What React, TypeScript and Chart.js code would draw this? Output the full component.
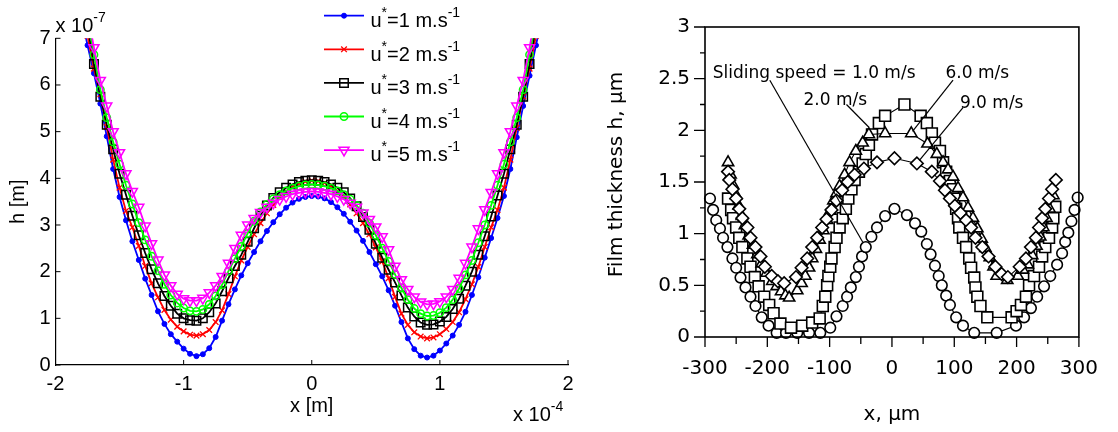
import React, { useEffect, useRef } from "react";
import { Chart, registerables } from "chart.js";
import { drawPoint } from "chart.js/helpers";

Chart.register(...registerables);

const LEFT_FONT = '"Liberation Sans", Arial, Helvetica, sans-serif';
const RIGHT_FONT = '"DejaVu Sans", Verdana, sans-serif';

// ---------------- Left panel (x in 1e-4 m, h in 1e-7 m) ----------------
const xGrid = [
  -1.8, -1.75, -1.7, -1.65, -1.6, -1.55, -1.5, -1.45, -1.4, -1.35, -1.3, -1.25, -1.2, -1.15, -1.1, -1.05, -1.0, -0.95,
  -0.9, -0.85, -0.8, -0.75, -0.7, -0.65, -0.6, -0.55, -0.5, -0.45, -0.4, -0.35, -0.3, -0.25, -0.2, -0.15, -0.1, -0.05,
  0, 0.05, 0.1, 0.15, 0.2, 0.25, 0.3, 0.35, 0.4, 0.45, 0.5, 0.55, 0.6, 0.65, 0.7, 0.75, 0.8, 0.85, 0.9, 0.95, 1.0,
  1.05, 1.1, 1.15, 1.2, 1.25, 1.3, 1.35, 1.4, 1.45, 1.5, 1.55, 1.6, 1.65, 1.7, 1.75, 1.8,
];
const hU1 = [
  7.5, 6.85, 6.25, 5.6, 4.9, 4.2, 3.6, 3.1, 2.65, 2.25, 1.85, 1.5, 1.15, 0.88, 0.66, 0.5, 0.35, 0.24, 0.19, 0.23, 0.36,
  0.6, 0.95, 1.3, 1.62, 1.92, 2.18, 2.42, 2.65, 2.87, 3.06, 3.23, 3.37, 3.48, 3.56, 3.6, 3.62,
  3.61, 3.57, 3.49, 3.38, 3.24, 3.07, 2.88, 2.66, 2.42, 2.16, 1.9, 1.6, 1.27, 0.92, 0.57, 0.34, 0.2, 0.16, 0.2, 0.31,
  0.46, 0.63, 0.86, 1.14, 1.5, 1.88, 2.3, 2.72, 3.15, 3.62, 4.2, 4.88, 5.55, 6.2, 6.85, 7.5,
];
const hU2 = [
  7.8, 7.05, 6.35, 5.8, 5.1, 4.4, 3.8, 3.3, 2.95, 2.55, 2.12, 1.75, 1.45, 1.18, 0.97, 0.82, 0.72, 0.65, 0.63, 0.66, 0.75,
  0.92, 1.17, 1.52, 1.9, 2.24, 2.53, 2.8, 3.04, 3.25, 3.43, 3.6, 3.72, 3.82, 3.89, 3.93, 3.95,
  3.94, 3.9, 3.83, 3.73, 3.61, 3.44, 3.25, 3.04, 2.8, 2.52, 2.22, 1.86, 1.46, 1.1, 0.86, 0.7, 0.61, 0.57, 0.59, 0.66,
  0.77, 0.92, 1.13, 1.41, 1.73, 2.1, 2.53, 2.95, 3.32, 3.8, 4.4, 5.08, 5.75, 6.35, 7.05, 7.8,
];
const hU3 = [
  8.0, 7.25, 6.45, 5.75, 5.15, 4.62, 4.1, 3.65, 3.2, 2.78, 2.4, 2.05, 1.75, 1.48, 1.27, 1.1, 1.0, 0.96, 0.95, 1.0, 1.13,
  1.32, 1.58, 1.86, 2.12, 2.36, 2.64, 2.93, 3.2, 3.42, 3.58, 3.7, 3.8, 3.87, 3.92, 3.95, 3.96,
  3.95, 3.92, 3.87, 3.8, 3.7, 3.57, 3.4, 3.17, 2.9, 2.6, 2.3, 2.04, 1.77, 1.49, 1.23, 1.04, 0.91, 0.86, 0.87, 0.93,
  1.03, 1.2, 1.42, 1.7, 2.0, 2.36, 2.76, 3.18, 3.63, 4.1, 4.62, 5.15, 5.75, 6.45, 7.25, 8.0,
];
const hU4 = [
  8.2, 7.4, 6.65, 5.9, 5.3, 4.78, 4.3, 3.85, 3.45, 3.05, 2.68, 2.33, 2.02, 1.73, 1.5, 1.33, 1.22, 1.16, 1.15, 1.19, 1.3,
  1.48, 1.72, 2.01, 2.28, 2.54, 2.82, 3.08, 3.28, 3.44, 3.56, 3.65, 3.73, 3.79, 3.83, 3.86, 3.87,
  3.86, 3.83, 3.79, 3.73, 3.65, 3.55, 3.42, 3.25, 3.04, 2.78, 2.5, 2.22, 1.94, 1.65, 1.4, 1.21, 1.1, 1.05, 1.06, 1.12,
  1.23, 1.4, 1.64, 1.93, 2.24, 2.62, 3.0, 3.42, 3.85, 4.3, 4.78, 5.3, 5.9, 6.65, 7.4, 8.2,
];
const hU5 = [
  8.3, 7.55, 6.8, 6.1, 5.55, 5.0, 4.55, 4.1, 3.72, 3.38, 2.98, 2.6, 2.25, 1.93, 1.7, 1.52, 1.42, 1.38, 1.38, 1.43, 1.55,
  1.7, 1.9, 2.18, 2.5, 2.78, 3.0, 3.14, 3.27, 3.38, 3.47, 3.55, 3.61, 3.66, 3.69, 3.71, 3.72,
  3.71, 3.69, 3.66, 3.61, 3.55, 3.47, 3.38, 3.26, 3.12, 2.96, 2.75, 2.47, 2.12, 1.83, 1.62, 1.46, 1.35, 1.3, 1.31, 1.36,
  1.46, 1.62, 1.86, 2.18, 2.53, 2.92, 3.33, 3.7, 4.1, 4.55, 5.0, 5.55, 6.1, 6.8, 7.55, 8.3,
];
const leftSpeeds = ["1", "2", "3", "4", "5"];
const leftXTicks = [-2, -1, 0, 1, 2];
const leftYTicks = [0, 1, 2, 3, 4, 5, 6, 7];

// ---------------- Right panel (x in µm, h in µm) ----------------
const xV1 = [
  -292, -287, -282, -276, -271, -264, -256, -250, -243, -235, -227, -219, -209, -198, -185, -170, -152, -133, -115,
  -99, -89, -79, -72, -66, -58, -53, -48, -42, -33, -24, -11, 4, 24, 37, 47, 56, 62, 69, 75, 80, 87, 93, 103, 114,
  132, 168, 199, 212, 223, 233, 244, 254, 265, 273, 278, 283, 288, 293, 298,
];
const hV1 = [
  1.34, 1.23, 1.13, 1.05, 0.96, 0.87, 0.76, 0.67, 0.575, 0.48, 0.39, 0.3, 0.19, 0.11, 0.04, 0.04, 0.04, 0.04, 0.04,
  0.09, 0.2, 0.3, 0.39, 0.48, 0.58, 0.68, 0.78, 0.87, 0.97, 1.06, 1.17, 1.24, 1.18, 1.1, 1.02, 0.9, 0.8, 0.69, 0.59,
  0.5, 0.4, 0.31, 0.19, 0.11, 0.04, 0.04, 0.11, 0.19, 0.28, 0.39, 0.49, 0.59, 0.7, 0.81, 0.92, 1.01, 1.12, 1.23, 1.35,
];
const xV2 = [
  -263, -258, -255, -250, -245, -240, -232, -227, -220, -214, -205, -197, -190, -179, -162, -144, -128, -116, -111,
  -107, -104, -102, -99, -97, -92, -89, -84, -79, -74, -70, -65, -60, -53, -47, -42, -37, -32, -21, -11, 20, 46, 56,
  64, 69, 77, 82, 87, 93, 98, 100, 103, 106, 108, 114, 119, 124, 127, 132, 134, 137, 142, 153, 192, 200, 207, 215,
  220, 228, 236, 241, 246, 252, 257, 259, 262,
];
const hV2 = [
  1.34, 1.23, 1.15, 1.06, 0.96, 0.87, 0.76, 0.68, 0.58, 0.49, 0.39, 0.31, 0.23, 0.13, 0.09, 0.11, 0.14, 0.18, 0.3,
  0.39, 0.5, 0.59, 0.68, 0.76, 0.87, 0.96, 1.06, 1.15, 1.24, 1.34, 1.43, 1.52, 1.6, 1.68, 1.77, 1.86, 1.96, 2.07,
  2.14, 2.25, 2.14, 2.07, 1.97, 1.88, 1.8, 1.69, 1.6, 1.51, 1.43, 1.34, 1.24, 1.15, 1.06, 0.96, 0.87, 0.76, 0.67,
  0.575, 0.48, 0.39, 0.3, 0.19, 0.19, 0.25, 0.31, 0.39, 0.5, 0.59, 0.68, 0.78, 0.87, 0.96, 1.06, 1.15, 1.26,
];
const xV6 = [
  -263, -259, -255, -250, -246, -241, -236, -230, -223, -216, -209, -201, -192, -185, -178, -171, -165, -152, -145,
  -139, -133, -128, -122, -116, -110, -104, -99, -94, -89, -84, -76, -68, -58, -47, -37, -11, 31, 57, 72, 82, 90, 98,
  106, 114, 122, 130, 137, 144, 150, 157, 163, 168, 185, 202, 210, 218, 225, 232, 238, 243, 248, 253, 259,
];
const hV6 = [
  1.69, 1.57, 1.47, 1.37, 1.27, 1.17, 1.08, 0.98, 0.89, 0.8, 0.71, 0.62, 0.54, 0.49, 0.44, 0.4, 0.38, 0.45, 0.52,
  0.59, 0.67, 0.76, 0.85, 0.94, 1.03, 1.13, 1.22, 1.32, 1.39, 1.46, 1.57, 1.69, 1.8, 1.88, 1.96, 1.97, 1.97, 1.87,
  1.77, 1.69, 1.62, 1.55, 1.44, 1.35, 1.25, 1.15, 1.05, 0.95, 0.86, 0.77, 0.68, 0.59, 0.55, 0.59, 0.65, 0.7, 0.79,
  0.88, 0.97, 1.06, 1.15, 1.24, 1.37,
];
const xV9 = [
  -263, -261, -256, -250, -245, -240, -232, -227, -219, -211, -204, -193, -183, -173, -154, -145, -136, -128, -120,
  -112, -105, -97, -89, -80, -71, -60, -45, -24, 4, 40, 64, 77, 85, 93, 101, 110, 119, 127, 134, 145, 155, 166, 176,
  186, 205, 215, 223, 231, 236, 241, 246, 252, 257, 263,
];
const hV9 = [
  1.6, 1.52, 1.43, 1.34, 1.24, 1.15, 1.06, 0.96, 0.87, 0.78, 0.68, 0.59, 0.54, 0.52, 0.58, 0.67, 0.76, 0.87, 0.96,
  1.06, 1.14, 1.23, 1.32, 1.42, 1.5, 1.57, 1.63, 1.69, 1.73, 1.68, 1.6, 1.51, 1.42, 1.34, 1.27, 1.2, 1.13, 1.06,
  0.96, 0.87, 0.78, 0.68, 0.61, 0.58, 0.68, 0.76, 0.87, 0.96, 1.06, 1.15, 1.24, 1.34, 1.43, 1.52,
];
const rightXTicks = [-300, -200, -100, 0, 100, 200, 300];
const rightXMinor = [-250, -150, -50, 50, 150, 250];
const rightYTicks = [0, 0.5, 1, 1.5, 2, 2.5, 3];
const rightYMinor = [0.25, 0.75, 1.25, 1.75, 2.25, 2.75];

const annTexts = ["Sliding speed = 1.0 m/s", "2.0 m/s", "6.0 m/s", "9.0 m/s"];
const annTextX = [-287.5, -142, 86, 109];
const annTextY = [2.51, 2.25, 2.51, 2.22];
const leadFromX = [-196, -73, 98, 114];
const leadFromY = [2.485, 2.25, 2.485, 2.22];
const leadToX = [-47, -37, 33, 44];
const leadToY = [0.92, 2.03, 1.99, 1.71];

function pairs(xs: number[], ys: number[]) {
  return xs.map((x, i) => ({ x, y: ys[i] }));
}

const leftStyles = [
  { color: "#0000ff", pointStyle: "circle", radius: 2.5, rotation: 0, filled: true, bw: 1 },
  { color: "#ff0000", pointStyle: "crossRot", radius: 4, rotation: 0, filled: false, bw: 1.3 },
  { color: "#000000", pointStyle: "rect", radius: 6, rotation: 0, filled: false, bw: 1.5 },
  { color: "#00ff00", pointStyle: "circle", radius: 3.7, rotation: 0, filled: false, bw: 1.5 },
  { color: "#ff00ff", pointStyle: "triangle", radius: 5.8, rotation: 180, filled: false, bw: 1.5 },
];
const leftValues = [hU1, hU2, hU3, hU4, hU5];

function drawParts(ctx: CanvasRenderingContext2D, x: number, base: number, parts: { t: string; sup?: boolean }[], size: number, supSize: number, font: string, raise: number) {
  let cx = x;
  for (const p of parts) {
    ctx.font = `${p.sup ? supSize : size}px ${font}`;
    ctx.fillText(p.t, cx, p.sup ? base - raise : base);
    cx += ctx.measureText(p.t).width;
  }
}

const leftDeco = {
  id: "leftDeco",
  afterDraw(chart: any) {
    const { ctx, chartArea: a } = chart;
    const xs = chart.scales.x;
    const ys = chart.scales.y;
    ctx.save();
    ctx.strokeStyle = "#000";
    ctx.lineWidth = 1;
    ctx.beginPath();
    leftXTicks.forEach((v) => {
      const p = xs.getPixelForValue(v);
      ctx.moveTo(p, a.bottom);
      ctx.lineTo(p, a.bottom - 5);
    });
    leftYTicks.forEach((v) => {
      const p = ys.getPixelForValue(v);
      ctx.moveTo(a.left, p);
      ctx.lineTo(a.left + 5, p);
    });
    ctx.stroke();

    ctx.fillStyle = "#000";
    ctx.textAlign = "left";
    ctx.textBaseline = "alphabetic";
    drawParts(ctx, a.left, a.top - 6, [{ t: "x 10" }, { t: "-7", sup: true }], 20, 14, LEFT_FONT, 10);
    drawParts(ctx, a.right - 55, a.bottom + 56, [{ t: "x 10" }, { t: "-4", sup: true }], 20, 14, LEFT_FONT, 10);

    ctx.font = `20px ${LEFT_FONT}`;
    ctx.textAlign = "center";
    ctx.fillText("x [m]", (a.left + a.right) / 2, a.bottom + 47);
    ctx.save();
    ctx.translate(24, (a.top + a.bottom) / 2);
    ctx.rotate(-Math.PI / 2);
    ctx.fillText("h [m]", 0, 0);
    ctx.restore();

    // legend
    ctx.textAlign = "left";
    leftStyles.forEach((s, i) => {
      const ry = 15.7 + i * 33.6;
      ctx.strokeStyle = s.color;
      ctx.lineWidth = 1.8;
      ctx.beginPath();
      ctx.moveTo(324, ry);
      ctx.lineTo(364, ry);
      ctx.stroke();
      ctx.lineWidth = s.bw;
      ctx.fillStyle = s.filled ? s.color : "rgba(0,0,0,0)";
      drawPoint(ctx, { pointStyle: s.pointStyle as any, radius: s.radius, rotation: s.rotation, borderWidth: s.bw }, 344, ry);
      ctx.fillStyle = "#000";
      drawParts(
        ctx,
        370.5,
        ry + 11.3,
        [{ t: "u" }, { t: "*", sup: true }, { t: `=${leftSpeeds[i]} m.s` }, { t: "-1", sup: true }],
        20,
        14,
        LEFT_FONT,
        10
      );
    });
    ctx.restore();
  },
};

const rightDeco = {
  id: "rightDeco",
  afterDraw(chart: any) {
    const { ctx, chartArea: a } = chart;
    const xs = chart.scales.x;
    const ys = chart.scales.y;
    ctx.save();
    ctx.strokeStyle = "#000";
    ctx.lineWidth = 1.6;
    ctx.strokeRect(a.left, a.top, a.right - a.left, a.bottom - a.top);
    ctx.lineWidth = 1.3;
    ctx.beginPath();
    rightXTicks.forEach((v) => {
      const p = xs.getPixelForValue(v);
      ctx.moveTo(p, a.bottom);
      ctx.lineTo(p, a.bottom + 10);
    });
    rightXMinor.forEach((v) => {
      const p = xs.getPixelForValue(v);
      ctx.moveTo(p, a.bottom);
      ctx.lineTo(p, a.bottom + 7);
    });
    rightYTicks.forEach((v) => {
      const p = ys.getPixelForValue(v);
      ctx.moveTo(a.left, p);
      ctx.lineTo(a.left - 11, p);
    });
    rightYMinor.forEach((v) => {
      const p = ys.getPixelForValue(v);
      ctx.moveTo(a.left, p);
      ctx.lineTo(a.left - 5, p);
    });
    ctx.stroke();

    // annotations
    ctx.fillStyle = "#000";
    ctx.font = `17px ${RIGHT_FONT}`;
    ctx.textAlign = "left";
    ctx.textBaseline = "alphabetic";
    ctx.lineWidth = 1.2;
    annTexts.forEach((t, i) => {
      ctx.fillText(t, xs.getPixelForValue(annTextX[i]), ys.getPixelForValue(annTextY[i]));
      ctx.beginPath();
      ctx.moveTo(xs.getPixelForValue(leadFromX[i]), ys.getPixelForValue(leadFromY[i]));
      ctx.lineTo(xs.getPixelForValue(leadToX[i]), ys.getPixelForValue(leadToY[i]));
      ctx.stroke();
    });

    // titles
    ctx.font = `20px ${RIGHT_FONT}`;
    ctx.textAlign = "center";
    ctx.fillText("x, \u03bcm", (a.left + a.right) / 2, 420);
    ctx.save();
    ctx.translate(21.7, 174.5);
    ctx.rotate(-Math.PI / 2);
    ctx.fillText("Film thickness h, \u03bcm", 0, 0);
    ctx.restore();
    ctx.restore();
  },
};

function leftConfig(): any {
  const font = { family: LEFT_FONT, size: 20 };
  return {
    type: "scatter",
    data: {
      datasets: leftStyles.map((s, i) => ({
        label: `u*=${leftSpeeds[i]} m.s-1`,
        data: pairs(xGrid, leftValues[i]),
        showLine: true,
        borderColor: s.color,
        borderWidth: 1.8,
        pointStyle: s.pointStyle,
        pointRadius: s.radius,
        pointRotation: s.rotation,
        pointBorderColor: s.color,
        pointBackgroundColor: s.filled ? s.color : "rgba(0,0,0,0)",
        pointBorderWidth: s.bw,
        tension: 0,
        order: 5 - i,
      })),
    },
    options: {
      responsive: false,
      animation: false,
      events: [],
      layout: { padding: { left: 0, right: 32, top: 38.3, bottom: 0 } },
      plugins: { legend: { display: false }, tooltip: { enabled: false } },
      scales: {
        x: {
          type: "linear",
          min: -2,
          max: 2,
          afterFit: (s: any) => {
            s.height = 67;
          },
          afterBuildTicks: (s: any) => {
            s.ticks = leftXTicks.map((v) => ({ value: v }));
          },
          ticks: { font, color: "#000", padding: 7, maxRotation: 0, callback: (v: number) => String(v) },
          grid: { display: false, drawTicks: false },
          border: { display: true, color: "#000", width: 1.2 },
        },
        y: {
          type: "linear",
          min: 0,
          max: 7,
          afterFit: (s: any) => {
            s.width = 55.5;
          },
          afterBuildTicks: (s: any) => {
            s.ticks = leftYTicks.map((v) => ({ value: v }));
          },
          ticks: { font, color: "#000", padding: 5, callback: (v: number) => String(v) },
          grid: { display: false, drawTicks: false },
          border: { display: true, color: "#000", width: 1.2 },
        },
      },
    },
    plugins: [leftDeco],
  };
}

function rightConfig(): any {
  const font = { family: RIGHT_FONT, size: 20 };
  const mk = (xs: number[], ys: number[], style: string, radius: number, order: number, label: string) => ({
    label,
    data: pairs(xs, ys),
    showLine: true,
    borderColor: "#000",
    borderWidth: 1.1,
    pointStyle: style,
    pointRadius: radius,
    pointBorderColor: "#000",
    pointBackgroundColor: "#fff",
    pointBorderWidth: 1.6,
    tension: 0,
    clip: false,
    order,
  });
  return {
    type: "scatter",
    data: {
      datasets: [
        mk(xV1, hV1, "circle", 5.3, 4, "1.0 m/s"),
        mk(xV2, hV2, "rect", 7.7, 3, "2.0 m/s"),
        mk(xV6, hV6, "triangle", 6.5, 2, "6.0 m/s"),
        mk(xV9, hV9, "rectRot", 6.3, 1, "9.0 m/s"),
      ],
    },
    options: {
      responsive: false,
      animation: false,
      events: [],
      layout: { padding: { left: 0, right: 29, top: 15, bottom: 0 } },
      plugins: { legend: { display: false }, tooltip: { enabled: false } },
      scales: {
        x: {
          type: "linear",
          min: -300,
          max: 300,
          afterFit: (s: any) => {
            s.height = 95;
          },
          afterBuildTicks: (s: any) => {
            s.ticks = rightXTicks.map((v) => ({ value: v }));
          },
          ticks: { font, color: "#000", padding: 20, maxRotation: 0, callback: (v: number) => String(v) },
          grid: { display: false, drawTicks: false },
          border: { display: false },
        },
        y: {
          type: "linear",
          min: 0,
          max: 3,
          afterFit: (s: any) => {
            s.width = 105;
          },
          afterBuildTicks: (s: any) => {
            s.ticks = rightYTicks.map((v) => ({ value: v }));
          },
          ticks: { font, color: "#000", padding: 15, callback: (v: number) => String(v) },
          grid: { display: false, drawTicks: false },
          border: { display: false },
        },
      },
    },
    plugins: [rightDeco],
  };
}

export default function App() {
  const leftRef = useRef<HTMLCanvasElement>(null);
  const rightRef = useRef<HTMLCanvasElement>(null);
  useEffect(() => {
    const c1 = new Chart(leftRef.current as HTMLCanvasElement, leftConfig());
    const c2 = new Chart(rightRef.current as HTMLCanvasElement, rightConfig());
    return () => {
      c1.destroy();
      c2.destroy();
    };
  }, []);
  return (
    <div style={{ position: "absolute", left: 0, top: 0, width: 1118, height: 432, background: "#fff" }}>
      <canvas
        ref={leftRef}
        width={600}
        height={432}
        style={{ position: "absolute", left: 0, top: 0, width: 600, height: 432 }}
      />
      <canvas
        ref={rightRef}
        width={518}
        height={432}
        style={{ position: "absolute", left: 600, top: 0, width: 518, height: 432 }}
      />
    </div>
  );
}
